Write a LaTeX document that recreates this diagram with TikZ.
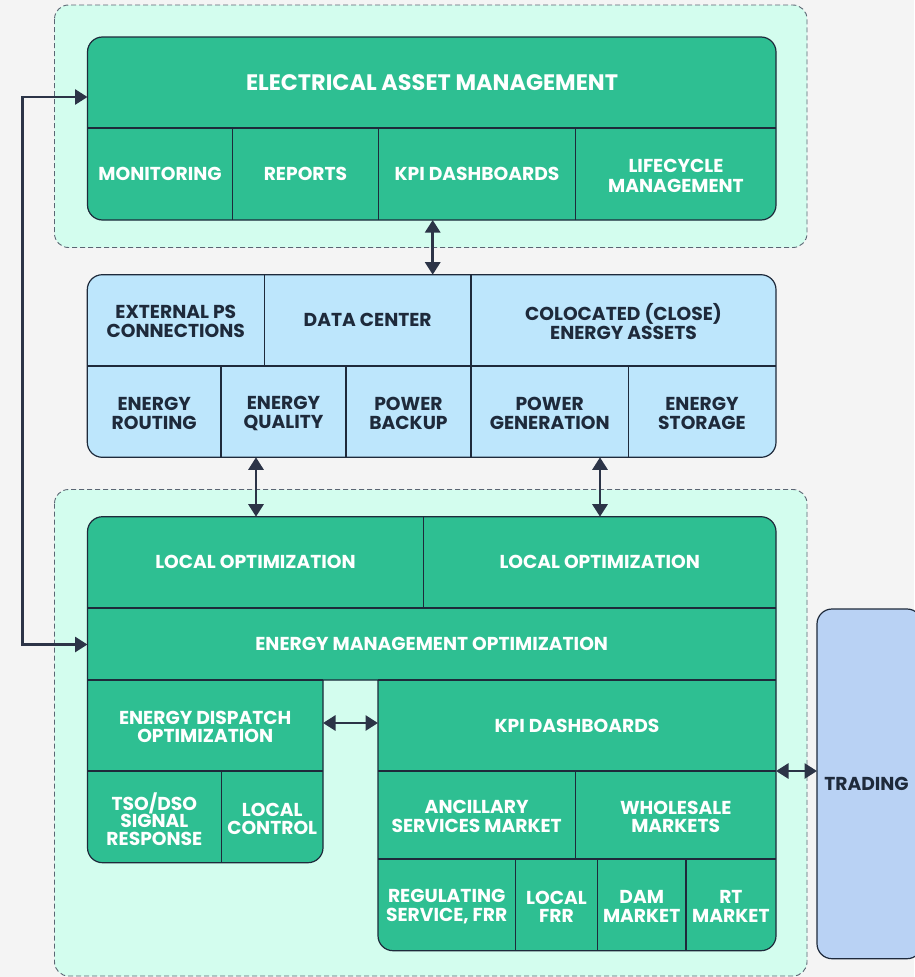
\documentclass[tikz,border=0pt]{standalone}
\usepackage{fontspec}
\setmainfont{Poppins}
\usetikzlibrary{arrows.meta}
\definecolor{bgc}{HTML}{F4F4F4}
\definecolor{mint}{HTML}{D3FDEE}
\definecolor{grn}{HTML}{2EBF92}
\definecolor{lblue}{HTML}{BDE6FC}
\definecolor{trd}{HTML}{B9D2F4}
\definecolor{ink}{HTML}{1E2A3B}
\definecolor{arrc}{HTML}{2C3447}
\definecolor{dashc}{HTML}{5B6573}
\begin{document}
\begin{tikzpicture}[x=1pt,y=-1pt,
 lbl/.style={font=\fontsize{18.7}{18.4}\selectfont\bfseries, align=center, inner sep=0pt, text=white},
 dlbl/.style={lbl, text=ink},
 ml/.style={yshift=-1.6pt},
 ttl/.style={font=\fontsize{22.4}{24}\selectfont\bfseries, align=center, inner sep=0pt, text=white},
 container/.style={draw=dashc, fill=mint, dash pattern=on 5pt off 3pt, rounded corners=14pt, line width=0.9pt},
 blk/.style={draw=ink, line width=1.2pt, rounded corners=15pt},
 div/.style={draw=ink, line width=1.4pt},
 tipA/.tip={Triangle[length=12.5pt,width=15pt]},
 dbl/.style={draw=arrc, line width=2.8pt, tipA-tipA},
]
\useasboundingbox (0,0) rectangle (914,977);
\fill[bgc] (0,0) rectangle (914,977);

% containers
\path[container] (54.5,5) rectangle (807,247.5);
\path[container] (54.5,489.5) rectangle (807,976);

% ---------- Electrical asset management ----------
\path[blk, fill=grn] (87.5,37) rectangle (776,220);
\draw[div] (87.5,128) -- (776,128);
\draw[div] (232.7,128) -- (232.7,220);
\draw[div] (378.3,128) -- (378.3,220);
\draw[div] (575.7,128) -- (575.7,220);
\node[ttl] (eam) at (432,82.5) {ELECTRICAL ASSET MANAGEMENT};
\node[lbl] (mon) at (160,174) {MONITORING};
\node[lbl] (rep) at (305.5,174) {REPORTS};
\node[lbl] (kpi1) at (477,174) {KPI DASHBOARDS};
\node[lbl, ml, font=\fontsize{18.7}{20.2}\selectfont\bfseries] (life) at (676,174) {LIFECYCLE\\MANAGEMENT};

% ---------- Middle block ----------
\path[blk, fill=lblue] (87.3,274.7) rectangle (776,457.3);
\draw[div] (87.3,366) -- (776,366);
\draw[div] (264.3,274.7) -- (264.3,366);
\draw[div] (471,274.7) -- (471,457.3);
\draw[div] (221,366) -- (221,457.3);
\draw[div] (346,366) -- (346,457.3);
\draw[div] (628.3,366) -- (628.3,457.3);
\node[dlbl, ml] (ext) at (175.8,320) {EXTERNAL PS\\CONNECTIONS};
\node[dlbl] (dc) at (367.7,320) {DATA CENTER};
\node[dlbl, ml] (colo) at (623.5,320) {COLOCATED (CLOSE)\\ENERGY ASSETS};
\node[dlbl, ml] (erout) at (154.2,411.7) {ENERGY\\ROUTING};
\node[dlbl, ml] (equal) at (283.5,411.7) {ENERGY\\QUALITY};
\node[dlbl, ml] (pback) at (408.5,411.7) {POWER\\BACKUP};
\node[dlbl, ml] (pgen) at (549.7,411.7) {POWER\\GENERATION};
\node[dlbl, ml] (estor) at (702,411.7) {ENERGY\\STORAGE};

% ---------- Bottom block ----------
\path[draw=ink, line width=1.2pt, fill=grn]
  (102.5,516.7) -- (761,516.7) arc[start angle=270, end angle=360, radius=15]
  -- (776,935.7) arc[start angle=0, end angle=90, radius=15]
  -- (393,950.7) arc[start angle=90, end angle=180, radius=15]
  -- (378,680) -- (323,680)
  -- (323,847.7) arc[start angle=0, end angle=90, radius=15]
  -- (102.5,862.7) arc[start angle=90, end angle=180, radius=15]
  -- (87.5,531.7) arc[start angle=180, end angle=270, radius=15] -- cycle;
\draw[div] (87.5,608) -- (776,608);
\draw[div] (423.5,516.7) -- (423.5,608);
\draw[div] (87.5,680) -- (323,680);
\draw[div] (378,680) -- (776,680);
\draw[div] (87.5,771) -- (323,771);
\draw[div] (221.3,771) -- (221.3,862.7);
\draw[div] (378,771) -- (776,771);
\draw[div] (378,859) -- (776,859);
\draw[div] (575.4,771) -- (575.4,859);
\draw[div] (515.4,859) -- (515.4,950.7);
\draw[div] (597.6,859) -- (597.6,950.7);
\draw[div] (685.8,859) -- (685.8,950.7);
\node[lbl] (lo1) at (255.5,562) {LOCAL OPTIMIZATION};
\node[lbl] (lo2) at (599.7,562) {LOCAL OPTIMIZATION};
\node[lbl] (emo) at (431.7,644) {ENERGY MANAGEMENT OPTIMIZATION};
\node[lbl, ml] (edo) at (205.2,725.5) {ENERGY DISPATCH\\OPTIMIZATION};
\node[lbl, ml, font=\fontsize{18.7}{17.8}\selectfont\bfseries] (tso) at (154.4,817.5) {TSO/DSO\\SIGNAL\\RESPONSE};
\node[lbl, ml] (lctl) at (272.2,817.5) {LOCAL\\CONTROL};
\node[lbl] (kpi2) at (577,725.5) {KPI DASHBOARDS};
\node[lbl, ml] (anc) at (476.7,815) {ANCILLARY\\SERVICES MARKET};
\node[lbl, ml] (whl) at (675.7,815) {WHOLESALE\\MARKETS};
\node[lbl, ml] (reg) at (446.7,905) {REGULATING\\SERVICE, FRR};
\node[lbl, ml] (lfrr) at (556.5,905) {LOCAL\\FRR};
\node[lbl, ml] (dam) at (641.7,905) {DAM\\MARKET};
\node[lbl, ml] (rt) at (730.9,905) {RT\\MARKET};

% ---------- Trading ----------
\path[blk, fill=trd] (817,609) rectangle (922,958.7);
\node[dlbl] (trading) at (866.5,784) {TRADING};

% ---------- connectors ----------
\coordinate (eamS) at (432.7,220);
\coordinate (midN) at (432.7,274.7);
\coordinate (midS1) at (256,457.3);
\coordinate (botN1) at (256,516.7);
\coordinate (midS2) at (600,457.3);
\coordinate (botN2) at (600,516.7);
\coordinate (eamW) at (87.5,97);
\coordinate (loopT) at (22.7,97);
\coordinate (loopB) at (22.7,644.5);
\coordinate (emoW) at (87.5,644.5);
\coordinate (edoE) at (323,723);
\coordinate (kpiW) at (378,723);
\coordinate (botE) at (776,771);
\coordinate (trdW) at (817,771);

\draw[dbl] (eamS) -- (midN);
\draw[dbl] (midS1) -- (botN1);
\draw[dbl] (midS2) -- (botN2);
\draw[dbl, line join=miter] (eamW) -- (loopT) -- (loopB) -- (emoW);
\draw[dbl] (edoE) -- (kpiW);
\draw[dbl] (botE) -- (trdW);
\end{tikzpicture}
\end{document}
